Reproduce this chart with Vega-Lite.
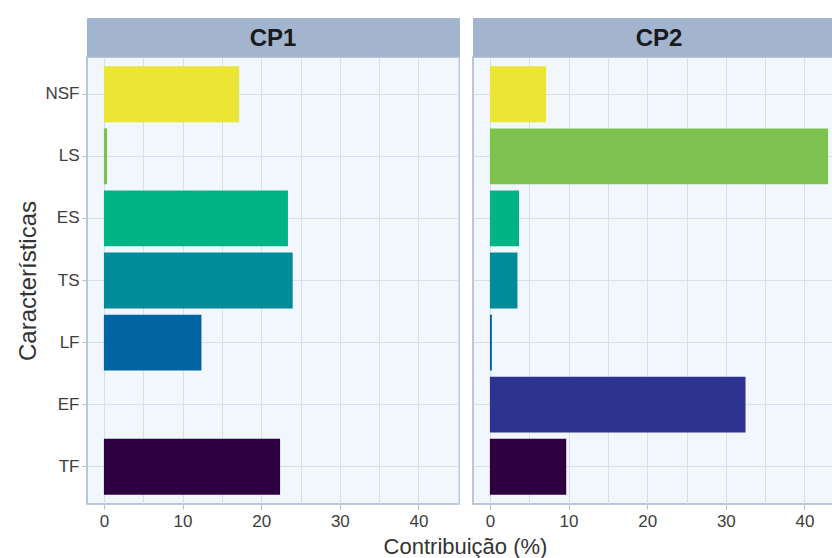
{
  "$schema": "https://vega.github.io/schema/vega-lite/v6.json",
  "padding": {"left": 15, "top": 17, "right": 0, "bottom": 0},
  "background": "white",
  "datasets": {
    "contrib": [
      {"CP": "CP1", "Caract": "NSF", "Valor": 17.2},
      {"CP": "CP1", "Caract": "LS", "Valor": 0.4},
      {"CP": "CP1", "Caract": "ES", "Valor": 23.4},
      {"CP": "CP1", "Caract": "TS", "Valor": 24.0},
      {"CP": "CP1", "Caract": "LF", "Valor": 12.4},
      {"CP": "CP1", "Caract": "EF", "Valor": 0},
      {"CP": "CP1", "Caract": "TF", "Valor": 22.4},
      {"CP": "CP2", "Caract": "NSF", "Valor": 7.15},
      {"CP": "CP2", "Caract": "LS", "Valor": 43.0},
      {"CP": "CP2", "Caract": "ES", "Valor": 3.7},
      {"CP": "CP2", "Caract": "TS", "Valor": 3.5},
      {"CP": "CP2", "Caract": "LF", "Valor": 0.25},
      {"CP": "CP2", "Caract": "EF", "Valor": 32.5},
      {"CP": "CP2", "Caract": "TF", "Valor": 9.7}
    ]
  },
  "title": {
    "text": "Contribuição (%)",
    "orient": "bottom",
    "anchor": "middle",
    "font": "Liberation Sans",
    "fontSize": 22,
    "fontWeight": "normal",
    "color": "#333333",
    "offset": 7,
    "dx": 35
  },
  "hconcat": [
    {
      "spacing": 0,
      "bounds": "flush",
      "vconcat": [
        {
          "width": 372,
          "height": 39,
          "data": {"values": [{"CP": "CP1"}]},
          "view": {"fill": "#a3b4cf", "stroke": "#a3b4cf", "strokeWidth": 1},
          "mark": {"type": "text", "font": "Liberation Sans", "fontSize": 24, "fontWeight": "bold", "color": "#1a1a1a", "baseline": "middle", "align": "center", "dy": 1},
          "encoding": {"text": {"field": "CP"}}
        },
        {
          "width": 372,
          "height": 447,
          "data": {"name": "contrib"},
          "transform": [{"filter": "datum.CP === 'CP1'"}],
          "view": {"fill": "#f2f7fd", "stroke": "#a6b6cf", "strokeWidth": 1.5},
          "mark": {"type": "bar"},
          "encoding": {
            "y": {
              "field": "Caract", "type": "nominal",
              "sort": ["NSF", "LS", "ES", "TS", "LF", "EF", "TF"],
              "scale": {"paddingInner": 0.1, "paddingOuter": 0.15},
              "axis": {"title": "Características", "titleFontSize": 24, "titleFontWeight": "normal", "titleColor": "#333333", "titleFont": "Liberation Sans", "titlePadding": 5,
                       "labelFont": "Liberation Sans", "labelFontSize": 17, "labelColor": "#3d3d3d", "labelPadding": 3,
                       "tickColor": "#b4bfd0", "tickSize": 5, "tickWidth": 1, "domain": false,
                       "grid": true, "gridColor": "#d5dfee", "gridWidth": 1}
            },
            "x": {
              "field": "Valor", "type": "quantitative",
              "scale": {"domain": [-2.15, 45.15], "nice": false, "zero": false},
              "axis": {"title": null, "values": [0, 5, 10, 15, 20, 25, 30, 35, 40, 45],
                       "labelExpr": "datum.value % 10 === 0 ? datum.label : ''",
                       "labelFont": "Liberation Sans", "labelFontSize": 17, "labelColor": "#3d3d3d", "labelPadding": 4,
                       "tickColor": "#b4bfd0", "tickSize": 5,
                       "tickOpacity": {"condition": {"test": "datum.value % 10 === 0", "value": 1}, "value": 0},
                       "domain": false, "grid": true, "gridColor": "#d5dfee", "gridWidth": 1}
            },
            "x2": {"datum": 0},
            "color": {
              "field": "Caract", "type": "nominal", "legend": null,
              "scale": {"domain": ["NSF", "LS", "ES", "TS", "LF", "EF", "TF"],
                        "range": ["#ebe535", "#7dc24f", "#00b385", "#008b99", "#0064a3", "#2d3391", "#2e0040"]}
            }
          }
        }
      ]
    },
    {
      "spacing": 0,
      "bounds": "flush",
      "vconcat": [
        {
          "width": 372,
          "height": 39,
          "data": {"values": [{"CP": "CP2"}]},
          "view": {"fill": "#a3b4cf", "stroke": "#a3b4cf", "strokeWidth": 1},
          "mark": {"type": "text", "font": "Liberation Sans", "fontSize": 24, "fontWeight": "bold", "color": "#1a1a1a", "baseline": "middle", "align": "center", "dy": 1},
          "encoding": {"text": {"field": "CP"}}
        },
        {
          "width": 372,
          "height": 447,
          "data": {"name": "contrib"},
          "transform": [{"filter": "datum.CP === 'CP2'"}],
          "view": {"fill": "#f2f7fd", "stroke": "#a6b6cf", "strokeWidth": 1.5},
          "mark": {"type": "bar"},
          "encoding": {
            "y": {
              "field": "Caract", "type": "nominal",
              "sort": ["NSF", "LS", "ES", "TS", "LF", "EF", "TF"],
              "scale": {"paddingInner": 0.1, "paddingOuter": 0.15},
              "axis": {"title": null, "labels": false, "ticks": false, "domain": false,
                       "grid": true, "gridColor": "#d5dfee", "gridWidth": 1}
            },
            "x": {
              "field": "Valor", "type": "quantitative",
              "scale": {"domain": [-2.15, 45.15], "nice": false, "zero": false},
              "axis": {"title": null, "values": [0, 5, 10, 15, 20, 25, 30, 35, 40, 45],
                       "labelExpr": "datum.value % 10 === 0 ? datum.label : ''",
                       "labelFont": "Liberation Sans", "labelFontSize": 17, "labelColor": "#3d3d3d", "labelPadding": 4,
                       "tickColor": "#b4bfd0", "tickSize": 5,
                       "tickOpacity": {"condition": {"test": "datum.value % 10 === 0", "value": 1}, "value": 0},
                       "domain": false, "grid": true, "gridColor": "#d5dfee", "gridWidth": 1}
            },
            "x2": {"datum": 0},
            "color": {
              "field": "Caract", "type": "nominal", "legend": null,
              "scale": {"domain": ["NSF", "LS", "ES", "TS", "LF", "EF", "TF"],
                        "range": ["#ebe535", "#7dc24f", "#00b385", "#008b99", "#0064a3", "#2d3391", "#2e0040"]}
            }
          }
        }
      ]
    }
  ],
  "spacing": 12,
  "resolve": {"scale": {"color": "shared"}},
  "config": {
    "font": "Liberation Sans"
  }
}
